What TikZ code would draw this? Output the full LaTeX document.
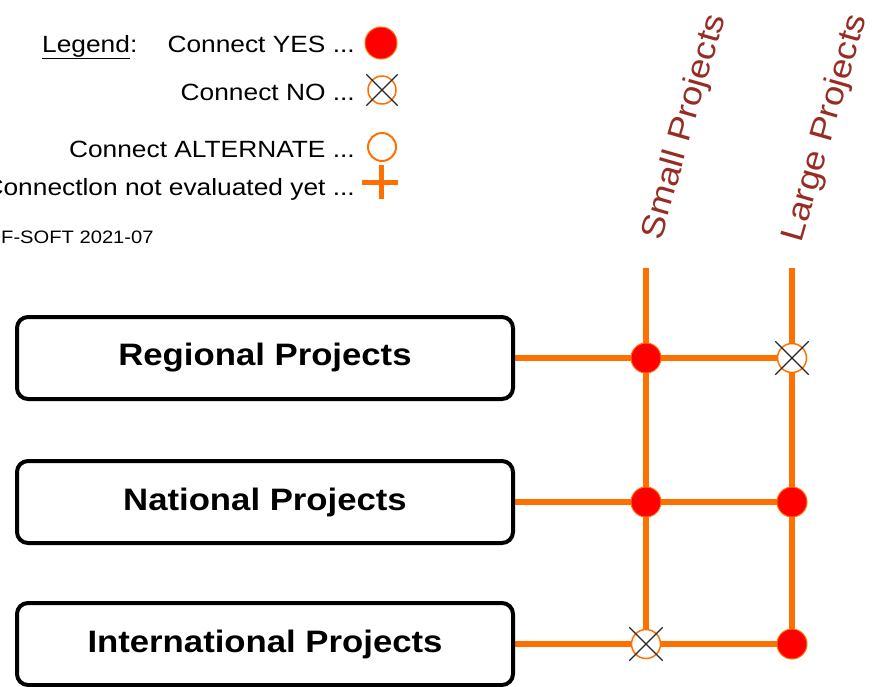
\documentclass[tikz,border=0pt]{standalone}
\usepackage{fontspec}
\setmainfont[FakeStretch=1.12]{Liberation Sans}
\usetikzlibrary{shapes.misc,backgrounds}
\definecolor{org}{RGB}{255,112,0}
\definecolor{lbl}{RGB}{150,45,35}
\tikzset{
  projbox/.style={draw=black, line width=4pt, rounded corners=11pt, minimum width=496pt, minimum height=82pt, inner sep=0pt, font=\fontsize{31}{34}\selectfont\bfseries},
  wire/.style={draw=org, line width=5.5pt},
  yesdot/.style={circle, fill=red, draw=org, line width=1pt, minimum size=30pt, inner sep=0pt},
  nodot/.style={circle, fill=white, draw=org, line width=1.5pt, minimum size=29pt, inner sep=0pt},
  altdot/.style={circle, fill=white, draw=org, line width=2pt, minimum size=29pt, inner sep=0pt},
  xmark/.style={cross out, draw=black!85, line width=1.3pt, minimum size=32pt, inner sep=0pt},
  legtext/.style={anchor=base east, inner sep=0pt, font=\fontsize{23.5}{26}\selectfont},
  collabel/.style={text=lbl, rotate=74, inner sep=0pt, font=\fontsize{32.5}{36}\selectfont},
  plusline/.style={draw=org, line width=5pt}
}
\begin{document}
\begin{tikzpicture}[x=1pt,y=-1pt]
\useasboundingbox (0,0) rectangle (876,686);

% legend
\node[anchor=base west, inner sep=0pt, font=\fontsize{23.5}{26}\selectfont] (leg) at (42,52) {\underline{Legend}:};
\node[legtext] (lyes) at (355,52) {Connect YES ...};
\node[legtext] (lno) at (355,100) {Connect NO ...};
\node[legtext] (lalt) at (355,157) {Connect ALTERNATE ...};
\node[legtext] (lnot) at (355,195) {Connectlon not evaluated yet ...};
\node[anchor=base west, inner sep=0pt, font=\fontsize{18}{20}\selectfont] (copy) at (1,243) {F-SOFT 2021-07};

\node[yesdot, minimum size=32pt] (syes) at (381,43) {};
\node[nodot, minimum size=28pt] (sno) at (382,90) {};
\node[xmark, minimum size=30pt] (snox) at (sno) {};
\node[altdot, minimum size=28pt] (salt) at (382,147) {};
\coordinate (splus) at (381,182);
\draw[plusline] ([yshift=-17pt]splus) -- ([yshift=17pt]splus);
\draw[plusline] ([xshift=-19pt]splus) -- ([xshift=17pt]splus);

% column labels
\node[collabel] (small) at (685,127) {Small Projects};
\node[collabel] (large) at (826,128) {Large Projects};

% boxes
\node[projbox] (reg) at (265,358) {Regional Projects};
\node[projbox] (nat) at (265,502) {National Projects};
\node[projbox] (int) at (265,644) {International Projects};

% crossings
\node[yesdot] (r1) at (646,358) {};
\node[nodot] (r2) at (792,358) {};
\node[xmark] (r2x) at (r2) {};
\node[yesdot] (n1) at (646,502) {};
\node[yesdot] (n2) at (792,502) {};
\node[nodot] (i1) at (646,644) {};
\node[xmark] (i1x) at (i1) {};
\node[yesdot] (i2) at (792,644) {};

\coordinate (stop) at (646,268);
\coordinate (ltop) at (792,268);

\begin{scope}[on background layer]
  \draw[wire] (stop) -- (r1.center) -- (n1.center) -- (i1.center);
  \draw[wire] (ltop) -- (r2.center) -- (n2.center) -- (i2.center);
  \draw[wire] (reg.east) -- (r1.center) -- (r2.center);
  \draw[wire] (nat.east) -- (n1.center) -- (n2.center);
  \draw[wire] (int.east) -- (i1.center) -- (i2.center);
\end{scope}
\end{tikzpicture}
\end{document}
